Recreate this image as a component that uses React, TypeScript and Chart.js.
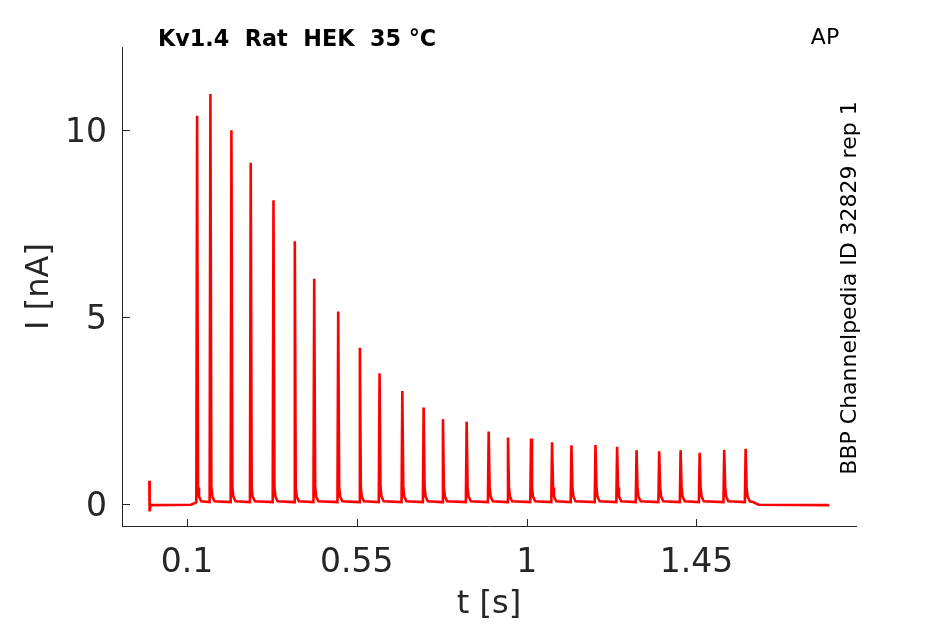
import React, { useEffect, useRef } from 'react';
import Chart from 'chart.js/auto';

// spike peaks (s, nA)
const peakTimes = [
  0.1265, 0.1618, 0.2175, 0.2687, 0.329, 0.3855, 0.437, 0.5006, 0.558,
  0.6102, 0.6705, 0.727, 0.7782, 0.841, 0.8994, 0.9506, 1.0117, 1.0674,
  1.1188, 1.1825, 1.2398, 1.2913, 1.3513, 1.4081, 1.4586, 1.5237, 1.5805,
];
const peakValues = [
  10.39, 10.97, 10.0, 9.13, 8.13, 7.03, 6.03, 5.15, 4.18,
  3.5, 3.02, 2.58, 2.27, 2.2, 1.94, 1.78, 1.75, 1.65,
  1.57, 1.58, 1.53, 1.44, 1.41, 1.44, 1.37, 1.45, 1.48,
];

// shape of one spike: time offsets from the peak and the tail levels after it
const spikeOffsets = [-0.002, 0, 0.0025, 0.005, 0.011];
const tailValues = [0.45, 0.2, 0.07];
const interSpikeLevel = 0.05;

// trace before the first spike and after the last one
const startTimes = [0, 0.0008, 0.003, 0.11, 0.122];
const startValues = [0.62, -0.2, -0.03, -0.02, 0.03];
const endTimes = [1.6, 1.615, 1.802];
const endValues = [0.05, -0.02, -0.03];

const xTickValues = [0.1, 0.55, 1, 1.45];
const yTickValues = [0, 5, 10];
const xRange = [-0.0725, 1.873];
const yRange = [-0.59, 12.23];

const titleText = 'Kv1.4  Rat  HEK  35 °C';
const cornerText = 'AP';
const sideText = 'BBP Channelpedia ID 32829 rep 1';

const FONT = '"DejaVu Sans", sans-serif';
const AXIS_COLOR = '#262626';

const decorations = {
  id: 'decorations',
  afterDraw(chart: any) {
    const { ctx, chartArea, scales } = chart;
    ctx.save();
    ctx.strokeStyle = AXIS_COLOR;
    ctx.lineWidth = 1;
    ctx.beginPath();
    xTickValues.forEach(v => {
      const px = Math.round(scales.x.getPixelForValue(v)) + 0.5;
      ctx.moveTo(px, chartArea.bottom);
      ctx.lineTo(px, chartArea.bottom - 7);
    });
    yTickValues.forEach(v => {
      const py = Math.round(scales.y.getPixelForValue(v)) + 0.5;
      ctx.moveTo(chartArea.left, py);
      ctx.lineTo(chartArea.left + 8, py);
    });
    ctx.stroke();

    ctx.fillStyle = '#000';
    ctx.textBaseline = 'middle';
    ctx.font = `bold 22.3px ${FONT}`;
    ctx.textAlign = 'left';
    ctx.fillText(titleText, 158, 40);

    ctx.font = `22px ${FONT}`;
    ctx.textAlign = 'center';
    ctx.fillText(cornerText, 825, 38);

    ctx.translate(850, 288);
    ctx.rotate(-Math.PI / 2);
    ctx.fillText(sideText, 0, 0);
    ctx.restore();
  },
};

const App: React.FC = () => {
  const canvasRef = useRef<HTMLCanvasElement | null>(null);

  useEffect(() => {
    if (!canvasRef.current) return;
    const ctx = canvasRef.current.getContext('2d');
    if (!ctx) return;

    const trace: { x: number; y: number }[] = [];
    startTimes.forEach((t, i) => trace.push({ x: t, y: startValues[i] }));
    peakTimes.forEach((tp, i) => {
      trace.push({ x: tp + spikeOffsets[0], y: interSpikeLevel });
      trace.push({ x: tp, y: peakValues[i] });
      tailValues.forEach((v, j) => trace.push({ x: tp + spikeOffsets[j + 2], y: v }));
    });
    endTimes.forEach((t, i) => trace.push({ x: t, y: endValues[i] }));

    const chart = new Chart(ctx, {
      type: 'line',
      data: {
        datasets: [
          {
            label: 'AP',
            data: trace,
            borderColor: '#ff0000',
            borderWidth: 2.6,
            pointRadius: 0,
            tension: 0,
            fill: false,
          },
        ],
      },
      options: {
        responsive: false,
        animation: false,
        layout: { padding: { top: 47, right: 89, left: 0, bottom: 0 } },
        plugins: {
          legend: { display: false },
          tooltip: { enabled: false },
        },
        scales: {
          x: {
            type: 'linear',
            min: xRange[0],
            max: xRange[1],
            afterBuildTicks: (s: any) => {
              s.ticks = xTickValues.map(value => ({ value }));
            },
            afterFit: (s: any) => {
              s.height = 98;
            },
            ticks: {
              autoSkip: false,
              maxRotation: 0,
              padding: 18,
              color: AXIS_COLOR,
              font: { family: FONT, size: 33 },
              callback: (v: any) => String(v),
            },
            grid: { display: false, drawTicks: false },
            border: { display: true, color: AXIS_COLOR, width: 1 },
            title: {
              display: true,
              text: 't [s]',
              color: AXIS_COLOR,
              font: { family: FONT, size: 32 },
              padding: { top: 0, bottom: 0 },
            },
          },
          y: {
            type: 'linear',
            min: yRange[0],
            max: yRange[1],
            afterBuildTicks: (s: any) => {
              s.ticks = yTickValues.map(value => ({ value }));
            },
            afterFit: (s: any) => {
              s.width = 122;
            },
            ticks: {
              padding: 15,
              labelOffset: 3,
              color: AXIS_COLOR,
              font: { family: FONT, size: 33 },
              callback: (v: any) => String(v),
            },
            grid: { display: false, drawTicks: false },
            border: { display: true, color: AXIS_COLOR, width: 1 },
            title: {
              display: true,
              text: 'I [nA]',
              color: AXIS_COLOR,
              font: { family: FONT, size: 32 },
              padding: { top: 20, bottom: 0 },
            },
          },
        },
      },
      plugins: [decorations],
    });

    return () => {
      chart.destroy();
    };
  }, []);

  return (
    <div style={{ position: 'fixed', left: 0, top: 0, width: 945, height: 624, background: '#fff' }}>
      <canvas ref={canvasRef} width={945} height={624} />
    </div>
  );
};

export default App;
